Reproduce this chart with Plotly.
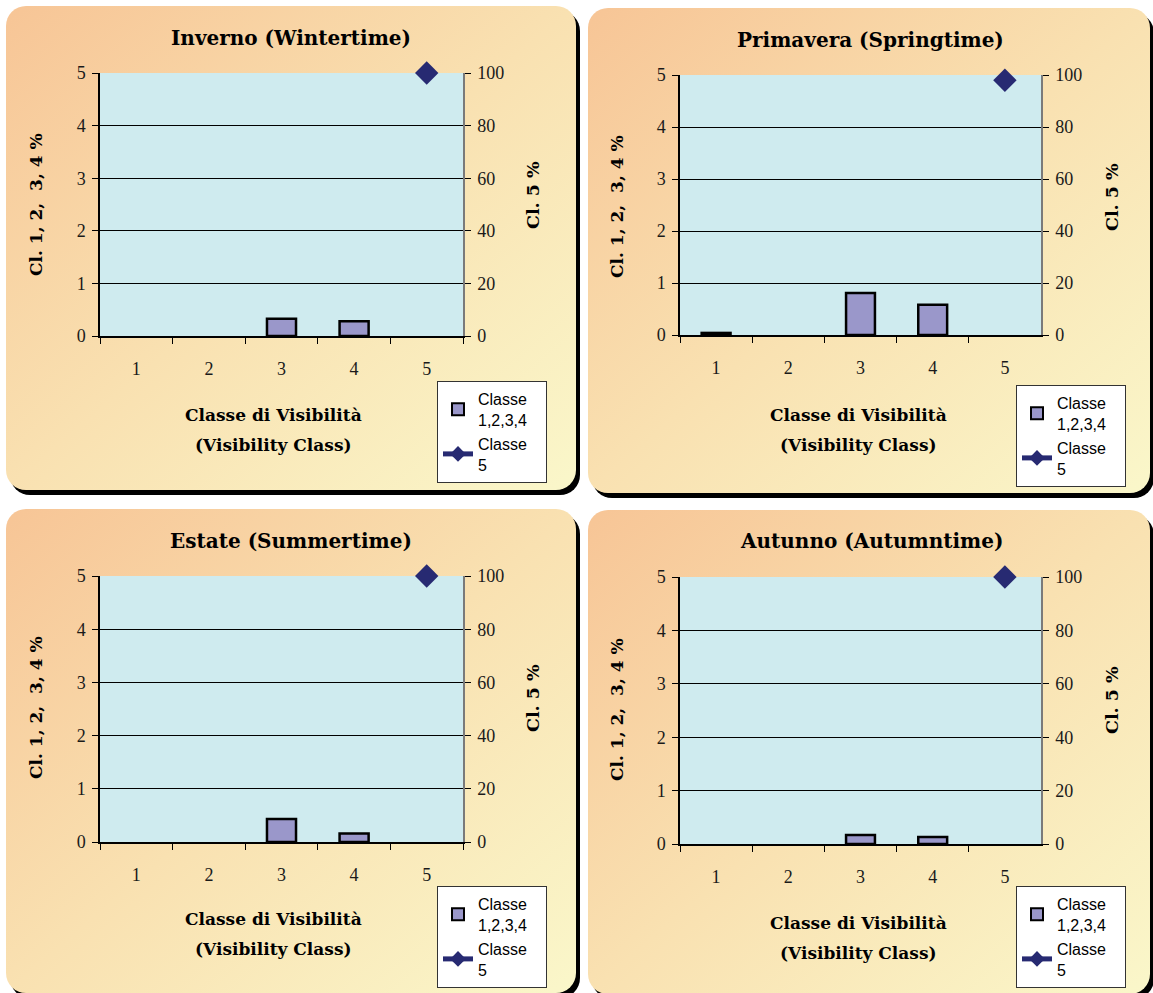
import base64
import plotly.graph_objects as go

W, H = 1153, 993

# ---------------- data ----------------
classes = ["1", "2", "3", "4", "5"]
season_titles = ["Inverno (Wintertime)", "Primavera (Springtime)",
                 "Estate (Summertime)", "Autunno (Autumntime)"]
winter_cl1234 = [None, None, 0.33, 0.28, None]
spring_cl1234 = [0.04, None, 0.81, 0.58, None]
summer_cl1234 = [None, None, 0.43, 0.16, None]
autumn_cl1234 = [None, None, 0.17, 0.13, None]
winter_cl5 = [None, None, None, None, 100]
spring_cl5 = [None, None, None, None, 98]
summer_cl5 = [None, None, None, None, 100]
autumn_cl5 = [None, None, None, None, 100]
left_ticks = [0, 1, 2, 3, 4, 5]
right_ticks = [0, 20, 40, 60, 80, 100]
x_title_lines = ["Classe di Visibilità", "(Visibility Class)"]
y_left_title = "Cl. 1, 2,  3, 4 %"
y_right_title = "Cl. 5 %"
legend_names = ["Classe\u00a0\u00a0\u00a0<br>1,2,3,4", "Classe<br>5"]

bars_data = [winter_cl1234, spring_cl1234, summer_cl1234, autumn_cl1234]
line_data = [winter_cl5, spring_cl5, summer_cl5, autumn_cl5]

# ---------------- geometry (pixels) ----------------
panels_bg = [(6, 6, 570, 484), (588, 8, 562, 485), (6, 509, 570, 484), (588, 510, 562, 484)]
plot_boxes = [(100, 73, 463, 336), (680, 75, 1041, 335), (100, 576, 463, 842), (680, 577, 1041, 844)]
title_pos = [(291, 38), (870, 40), (291, 541), (871, 541)]
ylt_pos = [(36, 205), (617, 207), (36, 708), (617, 710)]
yrt_pos = [(533, 195), (1112, 197), (533, 698), (1112, 700)]
xt_pos = [(273, 415), (858, 415), (273, 919), (858, 923)]
legend_pos = [(437, 381), (1016, 385), (437, 886), (1016, 886)]

def fx(x):
    return x / W

def fy(y):
    return 1 - y / H

SERIF = "Liberation Serif"
BSERIF = "DejaVu Serif"
SANS = "Liberation Sans"
BAR_COLOR = "#9A97CA"
LINE_COLOR = "#272A72"
PLOT_BG = "#CFEBEF"

# ---------------- background svg (rounded panels with shadow) ----------------
svg = ['<svg xmlns="http://www.w3.org/2000/svg" width="%d" height="%d" viewBox="0 0 %d %d" preserveAspectRatio="none">' % (W, H, W, H),
       '<defs><linearGradient id="g" x1="0" y1="0" x2="1" y2="1">'
       '<stop offset="0" stop-color="#F7C596"/><stop offset="0.5" stop-color="#F9E1B1"/>'
       '<stop offset="1" stop-color="#FAF7CA"/></linearGradient></defs>']
for (x, y, w, h) in panels_bg:
    svg.append('<rect x="%d" y="%d" width="%d" height="%d" rx="20" ry="20" fill="#000"/>' % (x + 4, y + 5, w, h))
    svg.append('<rect x="%d" y="%d" width="%d" height="%d" rx="20" ry="20" fill="url(#g)"/>' % (x, y, w, h))
svg.append('</svg>')
svg_uri = "data:image/svg+xml;base64," + base64.b64encode("".join(svg).encode()).decode()

fig = go.Figure()
layout = dict(
    width=W, height=H, margin=dict(l=0, r=0, t=0, b=0, pad=0, autoexpand=False),
    paper_bgcolor="white", plot_bgcolor=PLOT_BG,
    showlegend=True,
    images=[dict(source=svg_uri, xref="paper", yref="paper", x=0, y=1, sizex=1, sizey=1,
                 xanchor="left", yanchor="top", sizing="stretch", layer="below")],
    annotations=[],
    shapes=[],
)

tickfont = dict(family=SERIF, size=18, color="#1a1a1a")

def xid(i):
    return "x" if i == 1 else "x%d" % i

def yid(i):
    return "y" if i == 1 else "y%d" % i

def xkey(i):
    return "xaxis" if i == 1 else "xaxis%d" % i

def ykey(i):
    return "yaxis" if i == 1 else "yaxis%d" % i

for p in range(4):
    x0, y0, x1, y1 = plot_boxes[p]
    xd = [fx(x0), fx(x1)]
    yd = [fy(y1), fy(y0)]
    xi = p + 1           # main x
    yi = p + 1           # left y
    yr = p + 5           # right y
    xin = p + 5          # inner-tick x overlay
    yin = p + 9          # inner-tick left y overlay
    yrin = p + 13        # inner-tick right y overlay

    cat_common = dict(type="category", categoryorder="array", categoryarray=classes,
                      range=[-0.5, 4.5], tickson="boundaries", fixedrange=True)
    layout[xkey(xi)] = dict(domain=xd, anchor=yid(yi), showline=True, linecolor="black", linewidth=1.5,
                            ticks="outside", ticklen=6, tickcolor="black", tickwidth=1,
                            tickfont=tickfont, ticklabelstandoff=16, showgrid=False, **cat_common)
    layout[xkey(xin)] = dict(domain=xd, anchor=yid(yi), overlaying=xid(xi), showline=False,
                             ticks="inside", ticklen=6, tickcolor="black", tickwidth=1,
                             showticklabels=False, showgrid=False, **cat_common)
    layout[ykey(yi)] = dict(domain=yd, anchor=xid(xi), range=[0, 5], tickvals=left_ticks,
                            showline=True, linecolor="black", linewidth=1.5,
                            ticks="outside", ticklen=6, tickcolor="black",
                            tickfont=tickfont, ticklabelstandoff=3,
                            showgrid=True, gridcolor="black", gridwidth=1, zeroline=False, fixedrange=True)
    layout[ykey(yin)] = dict(domain=yd, anchor=xid(xi), overlaying=yid(yi), range=[0, 5], tickvals=left_ticks,
                             showline=False, ticks="inside", ticklen=6, tickcolor="black",
                             showticklabels=False, showgrid=False, zeroline=False, fixedrange=True)
    layout[ykey(yr)] = dict(domain=yd, anchor=xid(xi), overlaying=yid(yi), side="right", range=[0, 100],
                            tickvals=right_ticks, showline=True, linecolor="#7a7a7a", linewidth=1.5,
                            ticks="outside", ticklen=6, tickcolor="black",
                            tickfont=tickfont, ticklabelstandoff=3,
                            showgrid=False, zeroline=False, fixedrange=True)
    layout[ykey(yrin)] = dict(domain=yd, anchor=xid(xi), overlaying=yid(yi), side="right", range=[0, 100],
                              tickvals=right_ticks, showline=False, ticks="inside", ticklen=6,
                              tickcolor="black", showticklabels=False, showgrid=False, zeroline=False,
                              fixedrange=True)

    # plot-area background
    layout["shapes"].append(dict(type="rect", xref="%s domain" % xid(xi), yref="%s domain" % yid(yi),
                                 x0=0, x1=1, y0=0, y1=1, layer="below", fillcolor=PLOT_BG,
                                 line=dict(width=0)))

    lg = "legend" if p == 0 else "legend%d" % (p + 1)
    lx, ly = legend_pos[p]
    layout[lg] = dict(x=fx(lx), y=fy(ly), xanchor="left", yanchor="top", xref="paper", yref="paper",
                      bgcolor="white", bordercolor="#333", borderwidth=1,
                      font=dict(family=SANS, size=16, color="black"),
                      itemwidth=30, itemsizing="constant", tracegroupgap=2)

    fig.add_trace(go.Bar(x=classes, y=bars_data[p], xaxis=xid(xi), yaxis=yid(yi),
                         name=legend_names[0], legend=lg, width=0.4,
                         marker=dict(color=BAR_COLOR, line=dict(color="black", width=2.5)),
                         hoverinfo="skip"))
    fig.add_trace(go.Scatter(x=classes, y=line_data[p], xaxis=xid(xi), yaxis=yid(yr),
                             name=legend_names[1], legend=lg, mode="lines+markers", cliponaxis=False,
                             line=dict(color=LINE_COLOR, width=2),
                             marker=dict(symbol="diamond", size=18, color=LINE_COLOR),
                             hoverinfo="skip"))

    # texts
    tx, ty = title_pos[p]
    common = dict(xref="paper", yref="paper", showarrow=False, xanchor="center", yanchor="middle")
    layout["annotations"].append(dict(text="<b>%s</b>" % season_titles[p], x=fx(tx), y=fy(ty),
                                      font=dict(family=BSERIF, size=20, color="black"), **common))
    ax_, ay_ = ylt_pos[p]
    layout["annotations"].append(dict(text="<b>%s</b>" % y_left_title, x=fx(ax_), y=fy(ay_), textangle=-90,
                                      font=dict(family=BSERIF, size=17, color="black"), **common))
    ax_, ay_ = yrt_pos[p]
    layout["annotations"].append(dict(text="<b>%s</b>" % y_right_title, x=fx(ax_), y=fy(ay_), textangle=-90,
                                      font=dict(family=BSERIF, size=17.5, color="black"), **common))
    ax_, ay_ = xt_pos[p]
    for k, line in enumerate(x_title_lines):
        layout["annotations"].append(dict(text="<b>%s</b>" % line, x=fx(ax_), y=fy(ay_ + 30 * k),
                                          font=dict(family=BSERIF, size=17, color="black"), **common))

fig.update_layout(**layout)
fig.write_html("out.html", config={"displayModeBar": False},
               post_script="document.body.style.margin='0';document.body.style.overflow='hidden';")
